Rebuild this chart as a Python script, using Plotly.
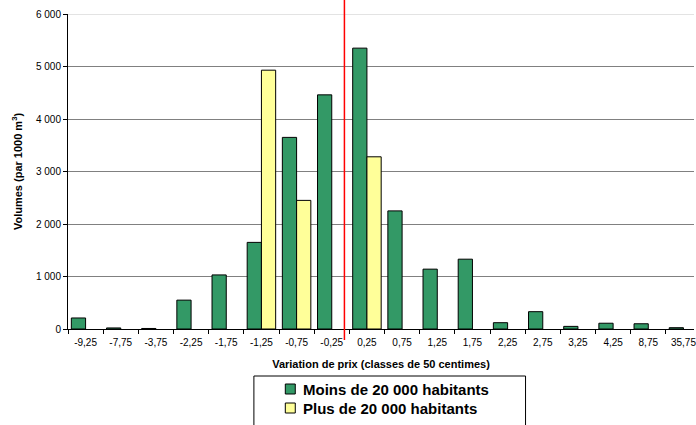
import plotly.graph_objects as go

# Price-variation classes (50-centime bins) and volumes per class
classes = ["-9,25", "-7,75", "-3,75", "-2,25", "-1,75", "-1,25", "-0,75", "-0,25",
           "0,25", "0,75", "1,25", "1,75", "2,25", "2,75", "3,25", "4,25", "8,75", "35,75"]
moins_20000 = [210, 20, 10, 550, 1030, 1650, 3650, 4460,
               5350, 2250, 1140, 1330, 120, 330, 50, 110, 100, 25]
plus_20000 = [None, None, None, None, None, 4930, 2450, None,
              3280, None, None, None, None, None, None, None, None, None]

series_names = ["Moins de 20 000 habitants", "Plus de 20 000 habitants"]
series_colors = ["#339966", "#FFFF99"]
y_ticks = [0, 1000, 2000, 3000, 4000, 5000, 6000]
y_tick_text = ["0", "1 000", "2 000", "3 000", "4 000", "5 000", "6 000"]

W, H = 696, 425
L, R, T, B = 68, 0, 14, 96
pw, ph = W - L - R, H - T - B


def px(x):
    return (x - L) / pw


def py(y):
    return (H - B - y) / ph


fig = go.Figure()
for name, vals, col in zip(series_names, [moins_20000, plus_20000], series_colors):
    fig.add_trace(go.Bar(
        x=classes, y=vals, name=name,
        marker=dict(color=col, line=dict(color="black", width=1)),
        showlegend=False,
    ))

shapes = [
    # light top gridline
    dict(type="line", xref="paper", yref="y", x0=0, x1=1, y0=6000, y1=6000,
         line=dict(color="#c8c8c8", width=1), layer="below"),
    # red reference line at zero variation
    dict(type="line", xref="x", yref="paper", x0=7.36, x1=7.36,
         y0=py(340), y1=py(0), line=dict(color="#ff0000", width=1.5)),
    # legend frame
    dict(type="rect", xref="paper", yref="paper",
         x0=px(254.5), x1=px(527), y0=py(445), y1=py(376),
         line=dict(color="black", width=1), fillcolor="white"),
]
annotations = []
for i, (name, col) in enumerate(zip(series_names, series_colors)):
    cy = 389 + i * 19
    shapes.append(dict(type="rect", xref="paper", yref="paper",
                       x0=px(286), x1=px(296), y0=py(cy + 5), y1=py(cy - 5),
                       line=dict(color="black", width=1), fillcolor=col))
    annotations.append(dict(xref="paper", yref="paper", x=px(302), y=py(cy),
                            xanchor="left", yanchor="middle", showarrow=False,
                            text="<b>" + name + "</b>",
                            font=dict(family="Arial, Liberation Sans", size=15, color="black")))

fig.update_layout(
    width=W, height=H,
    margin=dict(l=L, r=R, t=T, b=B, pad=0),
    paper_bgcolor="white", plot_bgcolor="white",
    barmode="group", bargap=0.19, bargroupgap=0,
    font=dict(family="Arial, Liberation Sans", color="black", size=10),
    shapes=shapes, annotations=annotations,
    xaxis=dict(
        range=[-0.5, 17.3], tickson="boundaries", ticks="outside", ticklen=4,
        tickcolor="black", showline=True, linecolor="black", linewidth=1,
        showgrid=False, tickfont=dict(size=10), ticklabelstandoff=4,
        title=dict(text="<b>Variation de prix (classes de 50 centimes)</b>",
                   font=dict(size=11), standoff=13),
    ),
    yaxis=dict(
        range=[0, 6000], tickvals=y_ticks, ticktext=y_tick_text,
        ticks="outside", ticklen=4, tickcolor="black",
        showline=True, linecolor="black", linewidth=1,
        showgrid=True, gridcolor="#808080", gridwidth=1, zeroline=False,
        tickfont=dict(size=10),
        title=dict(text="<b>Volumes (par 1000 m<sup>3</sup>)</b>",
                   font=dict(size=11), standoff=11),
    ),
)

fig.write_html("out.html")
